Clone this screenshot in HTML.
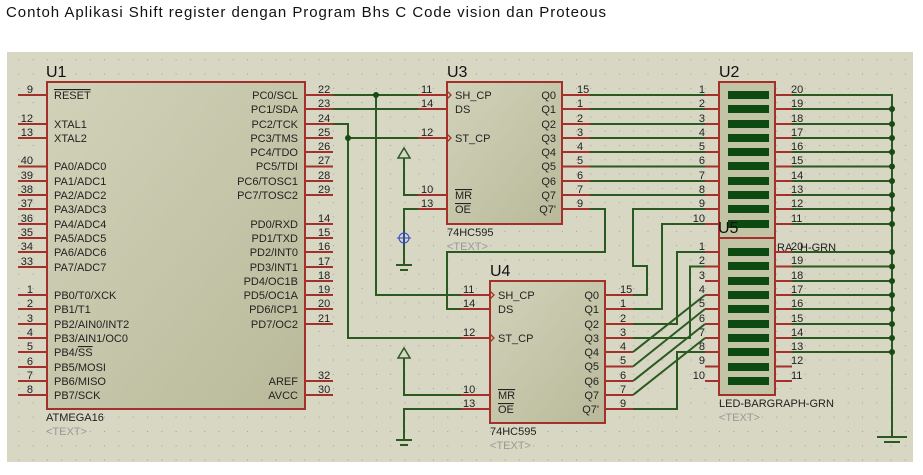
<!DOCTYPE html>
<html><head><meta charset="utf-8"><style>
html,body{margin:0;padding:0;background:#fff;width:923px;height:475px;overflow:hidden}
svg{display:block}
text{font-family:"Liberation Sans",Arial,sans-serif;font-size:11px;fill:#222}
.t{font-size:16px;fill:#111}
.g{fill:#999}
.r{stroke:#a3302a;stroke-width:2;fill:none}
.w{stroke:#2a5a22;stroke-width:2;fill:none}
</style></head><body>
<svg width="923" height="475" viewBox="0 0 923 475" xmlns="http://www.w3.org/2000/svg">
<defs>
<pattern id="dots" x="4" y="2" width="14.3" height="14.3" patternUnits="userSpaceOnUse"><rect x="0" y="0" width="1" height="1" fill="#a0a090"/></pattern>
<linearGradient id="bx" x1="0" y1="0" x2="1" y2="1"><stop offset="0" stop-color="#d2d2ba"/><stop offset="1" stop-color="#b9b99a"/></linearGradient>
</defs>
<text x="6" y="17" textLength="600" lengthAdjust="spacing" style="font-size:15px;fill:#111">Contoh Aplikasi Shift register dengan Program Bhs C Code vision dan Proteous</text>
<rect x="7" y="52" width="906" height="410" fill="#d7d7c3"/>
<rect x="7" y="52" width="906" height="410" fill="url(#dots)"/>

<!-- U1 -->
<rect x="47" y="82" width="258" height="327" fill="url(#bx)" stroke="#a3302a" stroke-width="2"/>
<text class="t" x="46" y="77">U1</text>
<text x="46" y="421">ATMEGA16</text><text class="g" x="46" y="435">&lt;TEXT&gt;</text>
<g class="r">
<path d="M18 95H47M18 124H47M18 138H47M18 166.5H47M18 181H47M18 195H47M18 209H47M18 224H47M18 238H47M18 252H47M18 267H47M18 295H47M18 309H47M18 324H47M18 338H47M18 352H47M18 367H47M18 381H47M18 395H47"/>
<path d="M305 95H333M305 109H333M305 124H333M305 138H333M305 152H333M305 166.5H333M305 181H333M305 195H333M305 224H333M305 238H333M305 252H333M305 267H333M305 281H333M305 295H333M305 309H333M305 324H333M305 381H333M305 395H333"/>
</g>
<g text-anchor="end">
<text x="33" y="93">9</text><text x="33" y="122">12</text><text x="33" y="136">13</text><text x="33" y="164">40</text><text x="33" y="179">39</text><text x="33" y="193">38</text><text x="33" y="207">37</text><text x="33" y="222">36</text><text x="33" y="236">35</text><text x="33" y="250">34</text><text x="33" y="265">33</text><text x="33" y="293">1</text><text x="33" y="307">2</text><text x="33" y="322">3</text><text x="33" y="336">4</text><text x="33" y="350">5</text><text x="33" y="365">6</text><text x="33" y="379">7</text><text x="33" y="393">8</text>
</g>
<g>
<text x="54" y="99" text-decoration="overline">RESET</text><text x="54" y="128">XTAL1</text><text x="54" y="142">XTAL2</text><text x="54" y="170">PA0/ADC0</text><text x="54" y="185">PA1/ADC1</text><text x="54" y="199">PA2/ADC2</text><text x="54" y="213">PA3/ADC3</text><text x="54" y="228">PA4/ADC4</text><text x="54" y="242">PA5/ADC5</text><text x="54" y="256">PA6/ADC6</text><text x="54" y="271">PA7/ADC7</text><text x="54" y="299">PB0/T0/XCK</text><text x="54" y="313">PB1/T1</text><text x="54" y="328">PB2/AIN0/INT2</text><text x="54" y="342">PB3/AIN1/OC0</text><text x="54" y="356">PB4/<tspan text-decoration="overline">SS</tspan></text><text x="54" y="371">PB5/MOSI</text><text x="54" y="385">PB6/MISO</text><text x="54" y="399">PB7/SCK</text>
</g>
<g text-anchor="end">
<text x="298" y="99">PC0/SCL</text><text x="298" y="113">PC1/SDA</text><text x="298" y="128">PC2/TCK</text><text x="298" y="142">PC3/TMS</text><text x="298" y="156">PC4/TDO</text><text x="298" y="170">PC5/TDI</text><text x="298" y="185">PC6/TOSC1</text><text x="298" y="199">PC7/TOSC2</text><text x="298" y="228">PD0/RXD</text><text x="298" y="242">PD1/TXD</text><text x="298" y="256">PD2/INT0</text><text x="298" y="271">PD3/INT1</text><text x="298" y="285">PD4/OC1B</text><text x="298" y="299">PD5/OC1A</text><text x="298" y="313">PD6/ICP1</text><text x="298" y="328">PD7/OC2</text><text x="298" y="385">AREF</text><text x="298" y="399">AVCC</text>
</g>
<g>
<text x="318" y="93">22</text><text x="318" y="107">23</text><text x="318" y="122">24</text><text x="318" y="136">25</text><text x="318" y="150">26</text><text x="318" y="164">27</text><text x="318" y="179">28</text><text x="318" y="193">29</text><text x="318" y="222">14</text><text x="318" y="236">15</text><text x="318" y="250">16</text><text x="318" y="265">17</text><text x="318" y="279">18</text><text x="318" y="293">19</text><text x="318" y="307">20</text><text x="318" y="322">21</text><text x="318" y="379">32</text><text x="318" y="393">30</text>
</g>

<!-- U3 -->
<rect x="447" y="82" width="115" height="142" fill="url(#bx)" stroke="#a3302a" stroke-width="2"/>
<text class="t" x="447" y="77">U3</text>
<text x="447" y="236">74HC595</text><text class="g" x="447" y="250">&lt;TEXT&gt;</text>
<g class="r"><path d="M418 95H447M418 109H447M418 138H447M418 195H447M418 209H447M562 95H590M562 109H590M562 124H590M562 138H590M562 152H590M562 166.5H590M562 181H590M562 195H590M562 209H590"/>
<path d="M447 91L451 95L447 99M447 134L451 138L447 142" stroke-width="1.3"/></g>
<text x="455" y="99">SH_CP</text><text x="455" y="113">DS</text><text x="455" y="142">ST_CP</text><text x="455" y="199" text-decoration="overline">MR</text><text x="455" y="213" text-decoration="overline">OE</text>
<g text-anchor="end"><text x="556" y="99">Q0</text><text x="556" y="113">Q1</text><text x="556" y="128">Q2</text><text x="556" y="142">Q3</text><text x="556" y="156">Q4</text><text x="556" y="170">Q5</text><text x="556" y="185">Q6</text><text x="556" y="199">Q7</text><text x="556" y="213">Q7'</text></g>
<text x="421" y="93">11</text><text x="421" y="107">14</text><text x="421" y="136">12</text><text x="421" y="193">10</text><text x="421" y="207">13</text>
<text x="577" y="93">15</text><text x="577" y="107">1</text><text x="577" y="122">2</text><text x="577" y="136">3</text><text x="577" y="150">4</text><text x="577" y="164">5</text><text x="577" y="179">6</text><text x="577" y="193">7</text><text x="577" y="207">9</text>

<!-- U4 -->
<rect x="490" y="281" width="115" height="142" fill="url(#bx)" stroke="#a3302a" stroke-width="2"/>
<text class="t" x="490" y="276">U4</text>
<text x="490" y="435">74HC595</text><text class="g" x="490" y="449">&lt;TEXT&gt;</text>
<g class="r"><path d="M461 295H490M461 309H490M461 338H490M461 395H490M461 409H490M605 295H633M605 309H633M605 324H633M605 338H633M605 352H633M605 366.5H633M605 381H633M605 395H633M605 409H633"/>
<path d="M490 291L494 295L490 299M490 334L494 338L490 342" stroke-width="1.3"/></g>
<text x="498" y="299">SH_CP</text><text x="498" y="313">DS</text><text x="498" y="342">ST_CP</text><text x="498" y="399" text-decoration="overline">MR</text><text x="498" y="413" text-decoration="overline">OE</text>
<g text-anchor="end"><text x="599" y="299">Q0</text><text x="599" y="313">Q1</text><text x="599" y="328">Q2</text><text x="599" y="342">Q3</text><text x="599" y="356">Q4</text><text x="599" y="370">Q5</text><text x="599" y="385">Q6</text><text x="599" y="399">Q7</text><text x="599" y="413">Q7'</text></g>
<text x="463" y="293">11</text><text x="463" y="307">14</text><text x="463" y="336">12</text><text x="463" y="393">10</text><text x="463" y="407">13</text>
<text x="620" y="293">15</text><text x="620" y="307">1</text><text x="620" y="322">2</text><text x="620" y="336">3</text><text x="620" y="350">4</text><text x="620" y="364">5</text><text x="620" y="379">6</text><text x="620" y="393">7</text><text x="620" y="407">9</text>

<!-- U2 -->
<rect x="719" y="82" width="56" height="160" fill="#c3c3a6" stroke="#a3302a" stroke-width="2"/>
<text class="t" x="719" y="77">U2</text>
<g fill="#0d4a12">
<rect x="728" y="91" width="41" height="8"/><rect x="728" y="105" width="41" height="8"/><rect x="728" y="120" width="41" height="8"/><rect x="728" y="134" width="41" height="8"/><rect x="728" y="148" width="41" height="8"/><rect x="728" y="162" width="41" height="8"/><rect x="728" y="177" width="41" height="8"/><rect x="728" y="191" width="41" height="8"/><rect x="728" y="205" width="41" height="8"/><rect x="728" y="220" width="41" height="8"/>
</g>
<!-- U5 -->
<rect x="719" y="238" width="56" height="157" fill="#c3c3a6" stroke="#a3302a" stroke-width="2"/>
<g fill="#0d4a12">
<rect x="728" y="248" width="41" height="8"/><rect x="728" y="262" width="41" height="8"/><rect x="728" y="277" width="41" height="8"/><rect x="728" y="291" width="41" height="8"/><rect x="728" y="305" width="41" height="8"/><rect x="728" y="320" width="41" height="8"/><rect x="728" y="334" width="41" height="8"/><rect x="728" y="348" width="41" height="8"/><rect x="728" y="363" width="41" height="8"/><rect x="728" y="377" width="41" height="8"/>
</g>
<text class="t" x="718" y="233">U5</text>
<text x="777" y="251">RA</text><text x="800" y="251">H-GRN</text>
<text x="719" y="407">LED-BARGRAPH-GRN</text><text class="g" x="719" y="421">&lt;TEXT&gt;</text>
<g class="r">
<path d="M705 95H719M705 109H719M705 124H719M705 138H719M705 152H719M705 166.5H719M705 181H719M705 195H719M705 209H719M705 224H719"/>
<path d="M775 95H792M775 109H792M775 124H792M775 138H792M775 152H792M775 166.5H792M775 181H792M775 195H792M775 209H792M775 224H792"/>
<path d="M705 252H719M705 266.5H719M705 281H719M705 295H719M705 309H719M705 324H719M705 338H719M705 352H719M705 366.5H719M705 381H719"/>
<path d="M775 252H792M775 266.5H792M775 281H792M775 295H792M775 309H792M775 324H792M775 338H792M775 352H792M775 366.5H792M775 381H792"/>
</g>
<g text-anchor="end">
<text x="705" y="93">1</text><text x="705" y="107">2</text><text x="705" y="122">3</text><text x="705" y="136">4</text><text x="705" y="150">5</text><text x="705" y="164">6</text><text x="705" y="179">7</text><text x="705" y="193">8</text><text x="705" y="207">9</text><text x="705" y="222">10</text>
<text x="705" y="250">1</text><text x="705" y="264">2</text><text x="705" y="279">3</text><text x="705" y="293">4</text><text x="705" y="307">5</text><text x="705" y="322">6</text><text x="705" y="336">7</text><text x="705" y="350">8</text><text x="705" y="364">9</text><text x="705" y="379">10</text>
</g>
<g>
<text x="791" y="93">20</text><text x="791" y="107">19</text><text x="791" y="122">18</text><text x="791" y="136">17</text><text x="791" y="150">16</text><text x="791" y="164">15</text><text x="791" y="179">14</text><text x="791" y="193">13</text><text x="791" y="207">12</text><text x="791" y="222">11</text>
<text x="791" y="250">20</text><text x="791" y="264">19</text><text x="791" y="279">18</text><text x="791" y="293">17</text><text x="791" y="307">16</text><text x="791" y="322">15</text><text x="791" y="336">14</text><text x="791" y="350">13</text><text x="791" y="364">12</text><text x="791" y="379">11</text>
</g>

<!-- wires -->
<g class="w">
<path d="M333 95H418M333 109H418M333 124H348V338H461M348 138H418M376 95V295H461"/>
<path d="M590 209H605V252H447V309H461"/>
<path d="M418 195H404V158M418 209H404V265"/>
<path d="M461 395H404V358M461 409H404V440"/>
<path d="M590 95H705M590 109H705M590 124H705M590 138H705M590 152H705M590 166.5H705M590 181H705M590 195H705"/>
<path d="M705 209H633V266H647V295H633M705 224H662V309H633"/>
<path d="M633 324H677V252H705M633 338H690V266.5H705"/>
<path d="M633 352L705 295M633 366.5L705 309M633 381L705 324M633 395L705 338M633 409H677V352H705"/>
<path d="M792 95H892V437M792 109H892M792 124H892M792 138H892M792 152H892M792 166.5H892M792 181H892M792 195H892M792 209H892M792 224H892"/>
<path d="M792 252H892M792 266.5H892M792 281H892M792 295H892M792 309H892M792 324H892M792 338H892M792 352H892"/>
<path d="M396 265H412M396 440H412M877 437H907"/>
<path d="M398 158L404 148L410 158Z M398 358L404 348L410 358Z" stroke-width="1.5"/>
</g>
<g stroke="#2a5a22" stroke-width="2"><path d="M400 270H408M400 445H408M884 442H900"/></g>
<g fill="#1a4a14">
<circle cx="376" cy="95" r="3"/><circle cx="348" cy="138" r="3"/>
<circle cx="892" cy="109" r="3"/><circle cx="892" cy="124" r="3"/><circle cx="892" cy="138" r="3"/><circle cx="892" cy="152" r="3"/><circle cx="892" cy="166.5" r="3"/><circle cx="892" cy="181" r="3"/><circle cx="892" cy="195" r="3"/><circle cx="892" cy="209" r="3"/><circle cx="892" cy="224" r="3"/>
<circle cx="892" cy="252" r="3"/><circle cx="892" cy="266.5" r="3"/><circle cx="892" cy="281" r="3"/><circle cx="892" cy="295" r="3"/><circle cx="892" cy="309" r="3"/><circle cx="892" cy="324" r="3"/><circle cx="892" cy="338" r="3"/><circle cx="892" cy="352" r="3"/>
</g>
<g stroke="#3344cc" stroke-width="1" fill="none"><circle cx="404" cy="238" r="5"/><path d="M397 238H411M404 231V245"/></g>
</svg>
</body></html>
